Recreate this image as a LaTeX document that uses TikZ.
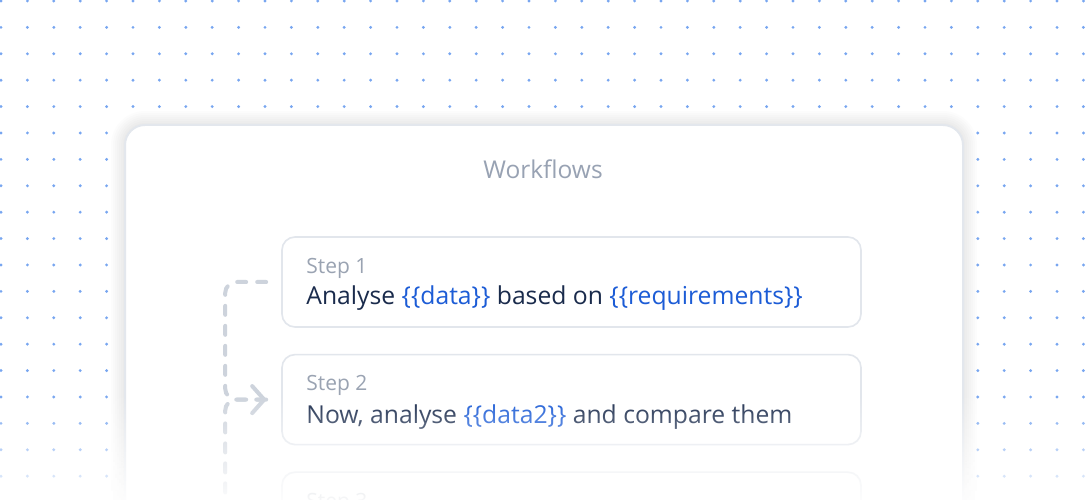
\documentclass[tikz,border=0pt]{standalone}
\usepackage{fontspec}
\setmainfont{Open Sans}
\usetikzlibrary{arrows.meta,positioning,fadings}

\definecolor{dotblue}{HTML}{78A6F0}
\definecolor{cardline}{HTML}{E3E7ED}
\definecolor{boxline}{HTML}{E2E6EC}
\definecolor{titlegray}{HTML}{98A2B3}
\definecolor{labelgray}{HTML}{9AA3B2}
\definecolor{textnavy}{HTML}{1A2B4C}
\definecolor{phblue}{HTML}{1C5CD6}
\definecolor{flowgray}{HTML}{CDD3DC}

\tikzfading[name=fadedown, top color=transparent!100, bottom color=transparent!8]

% placeholder in a step
\newcommand{\ph}[1]{\textcolor{phblue}{\{\{#1\}\}}}

\begin{document}
\begin{tikzpicture}[x=1pt,y=1pt,
    node distance=26pt,
    stepbox/.style={rectangle,draw=boxline,line width=1.6pt,fill=white,rounded corners=13pt,
      minimum width=579pt,minimum height=90pt,inner sep=0pt},
    steplabel/.style={anchor=base west,inner sep=0pt,text=labelgray,font=\fontsize{21}{25}\selectfont},
    steptext/.style={anchor=base west,inner sep=0pt,text=textnavy,font=\fontsize{24.7}{29}\selectfont},
    flow/.style={draw=flowgray,line width=4pt,dash pattern=on 9pt off 11pt,line cap=round,rounded corners=11pt},
    >={Straight Barb[length=12pt,width=27pt,round]}]
    \clip (0,0) rectangle (1088,500);

    % dot grid
    \foreach \i in {0,...,41}
      \foreach \j in {0,...,19}
        \fill[dotblue] (1+26.4*\i,499-26.4*\j) circle (1.6);

    % card with soft shadow
    \foreach \s in {2,4,...,14}
      \fill[black,opacity=0.01,rounded corners=20pt+\s pt] (125-\s,-40) rectangle (963+\s,375+\s);
    \filldraw[fill=white,draw=cardline,line width=2pt,rounded corners=20pt] (125,-40) rectangle (963,375);
    \node[text=titlegray,font=\fontsize{24.5}{29}\selectfont] (title) at (543,331) {Workflows};

    % steps
    \node[stepbox] (s1) at (571.5,218) {};
    \node[stepbox,below=of s1] (s2) {};
    \node[stepbox,below=of s2] (s3) {};

    \node[steplabel] (l1) at ([shift={(25pt,-37pt)}]s1.north west) {Step 1};
    \node[steptext] (t1) at ([shift={(25pt,-68pt)}]s1.north west) {Analyse \ph{data} based on \ph{requirements}};
    \node[steplabel] (l2) at ([shift={(25pt,-37pt)}]s2.north west) {Step 2};
    \node[steptext] (t2) at ([shift={(25pt,-70pt)}]s2.north west) {Now, analyse \ph{data2} and compare them};
    \node[steplabel] (l3) at ([shift={(25pt,-37pt)}]s3.north west) {Step 3};

    % connectors
    \draw[flow,->] ([xshift=-15pt]s1.west) -- ++(-41pt,0) |- ([xshift=-15pt]s2.west);
    \draw[flow,->] ([xshift=-15pt]s2.west) -- ++(-41pt,0) |- ([xshift=-15pt]s3.west);

    % fade out at the bottom
    \fill[white,path fading=fadedown] (0,0) rectangle (1088,106);
  \end{tikzpicture}
\end{document}
